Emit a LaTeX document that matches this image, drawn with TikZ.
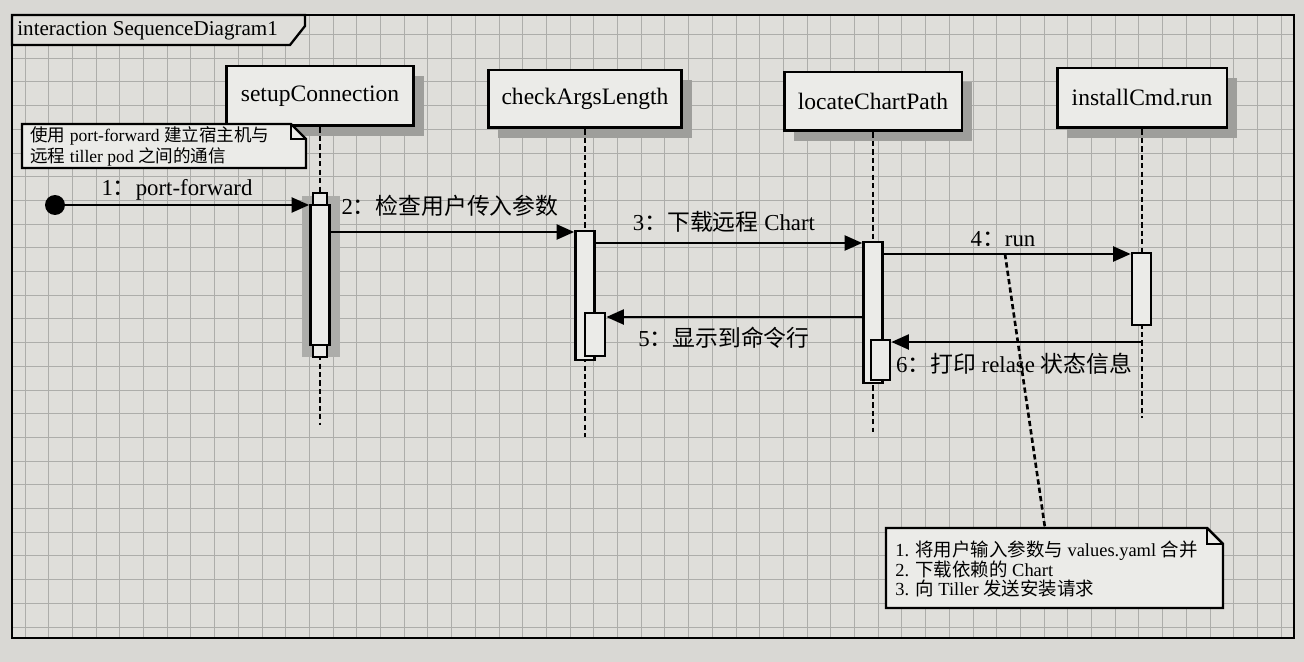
\documentclass[tikz,border=0pt]{standalone}
\usepackage{fontspec}
\setmainfont{Liberation Serif}
\newfontfamily\cjk{Noto Sans CJK SC}
\newcommand\zh[1]{{\cjk #1}}
\newcommand\tightlines{\lineskiplimit=-6pt\relax}
\usetikzlibrary{arrows.meta,shadows,calc}
\definecolor{page}{HTML}{D9D8D4}
\definecolor{paper}{HTML}{DFDEDA}
\definecolor{boxfill}{HTML}{EBEBE8}
\definecolor{gridc}{HTML}{ADADAA}
\definecolor{shade}{HTML}{9E9E9B}
\begin{document}
\begin{tikzpicture}[x=0.02cm,y=-0.02cm,
  obj/.style={draw,line width=1.7pt,fill=boxfill,font=\fontsize{13.4}{16}\selectfont,inner sep=0pt,
    drop shadow={shadow xshift=0.2cm,shadow yshift=-0.2cm,fill=shade,opacity=1}},
  act/.style={draw,line width=1.5pt,fill=boxfill,inner sep=0pt},
  life/.style={line width=1.5pt,dash pattern=on 3pt off 1.8pt},
  msg/.style={line width=1.4pt,-{Triangle[length=10pt,width=8.5pt]}},
  lbl/.style={font=\fontsize{13}{15}\selectfont,inner sep=0pt},
  notebox/.style={line width=1.4pt,fill=boxfill},
  notetext/.style={anchor=west,align=left,inner sep=0pt}
]
\useasboundingbox (0,0) rectangle (1304,662);
\fill[page] (0,0) rectangle (1304,662);
% frame and grid
\fill[paper] (12,15) rectangle (1294,638);
\begin{scope}
  \clip (12,15) rectangle (1294,638);
  \foreach \gx in {1.3,25,...,1300} \draw[gridc,line width=0.5pt] (\gx,15) -- (\gx,638);
  \foreach \gy in {10.8,34.5,...,640} \draw[gridc,line width=0.5pt] (12,\gy) -- (1294,\gy);
\end{scope}
\draw[line width=1.3pt] (12,15) rectangle (1294,638);
% title tab
\draw[line width=1.3pt,fill=paper] (12,15) -- (305,15) -- (305,26) -- (290,45) -- (12,45) -- cycle;
\node[anchor=west,inner sep=0pt,font=\fontsize{12}{14}\selectfont] (title) at (17,31) {interaction SequenceDiagram1};

% lifeline heads
\node[obj,minimum width=3.76cm,minimum height=1.2cm] (sc) at (320,96) {setupConnection};
\node[obj,minimum width=3.88cm,minimum height=1.16cm] (ca) at (585,99) {checkArgsLength};
\node[obj,minimum width=3.56cm,minimum height=1.18cm] (lc) at (873,101.5) {locateChartPath};
\node[obj,minimum width=3.40cm,minimum height=1.2cm] (ic) at (1142,98) {installCmd.run};

% lifelines
\coordinate (scend) at (320,425);
\coordinate (caend) at (585,437);
\coordinate (lcend) at (873,432);
\coordinate (icend) at (1142,418);
\draw[life] (sc.south) -- (scend);
\draw[life] (ca.south) -- (caend);
\draw[life] (lc.south) -- (lcend);
\draw[life] (ic.south) -- (icend);

% note 1
\coordinate (n1a) at (22,124);
\coordinate (n1b) at (306,168);
\draw[notebox] (n1a) -- (291,124) -- (306,139) -- (n1b) -- (22,168) -- cycle;
\draw[line width=1.4pt] (291,124) -- (291,139) -- (306,139);
\node[notetext,font=\fontsize{10}{11.9}\selectfont\tightlines] (note1) at (30,146.5)
  {\zh{使用} port-forward \zh{建立宿主机与}\\\zh{远程} tiller pod \zh{之间的通信}};

% activations
\fill[shade!85] (302,196) rectangle (340,357);
\node[act,minimum width=0.28cm,minimum height=0.24cm] (sctop) at (320,199) {};
\node[act,minimum width=0.28cm,minimum height=0.24cm] (scbot) at (320,351) {};
\node[act,minimum width=0.38cm,minimum height=2.8cm] (scact) at (320,275) {};
\node[act,minimum width=0.38cm,minimum height=2.58cm] (caact) at (585,295.5) {};
\node[act,minimum width=0.40cm,minimum height=0.86cm] (canest) at (595,334.5) {};
\node[act,minimum width=0.38cm,minimum height=2.82cm] (lcact) at (873,312.5) {};
\node[act,minimum width=0.38cm,minimum height=0.8cm] (lcnest) at (880.5,360) {};
\node[act,minimum width=0.38cm,minimum height=1.44cm] (icact) at (1141.5,289) {};

% start
\node[circle,fill=black,minimum size=0.4cm,inner sep=0pt] (start) at (55,205) {};

% message rows
\coordinate (y2) at (0,232);
\coordinate (y3) at (0,243);
\coordinate (y4) at (0,254);
\coordinate (y5) at (0,317);
\coordinate (y6) at (0,342);

\draw[msg] (start) -- (start -| scact.west);
\draw[msg] (scact.east |- y2) -- (caact.west |- y2);
\draw[msg] (caact.east |- y3) -- (lcact.west |- y3);
\draw[msg] (lcact.east |- y4) -- (icact.west |- y4);
\draw[msg] (lcact.west |- y5) -- (canest.east |- y5);
\draw[msg] (ic.south |- y6) -- (lcnest.east |- y6);

% labels
\node[lbl] (l1) at (177,190) {1\zh{：}port-forward};
\node[lbl] (l2) at (450,206) {2\zh{：检查用户传入参数}};
\node[lbl] (l3) at (724,222) {3\zh{：下载远程} Chart};
\node[lbl] (l4) at (1003,239) {4\zh{：}run};
\node[lbl] (l5) at (724,338) {5\zh{：显示到命令行}};
\node[lbl] (l6) at (1014,364) {6\zh{：打印} relase \zh{状态信息}};

% note 2
\draw[notebox] (886,528) -- (1207,528) -- (1223,544) -- (1223,608) -- (886,608) -- cycle;
\draw[line width=1.4pt] (1207,528) -- (1207,544) -- (1223,544);
\node[notetext,font=\fontsize{10.5}{11}\selectfont\tightlines] (note2) at (895,569)
  {1. \zh{将用户输入参数与} values.yaml \zh{合并}\\2. \zh{下载依赖的} Chart\\3. \zh{向} Tiller \zh{发送安装请求}};
\coordinate (c4) at (1005,254);
\coordinate (c4end) at (1045,528);
\draw[life] (c4) -- (c4end);
\end{tikzpicture}
\end{document}
